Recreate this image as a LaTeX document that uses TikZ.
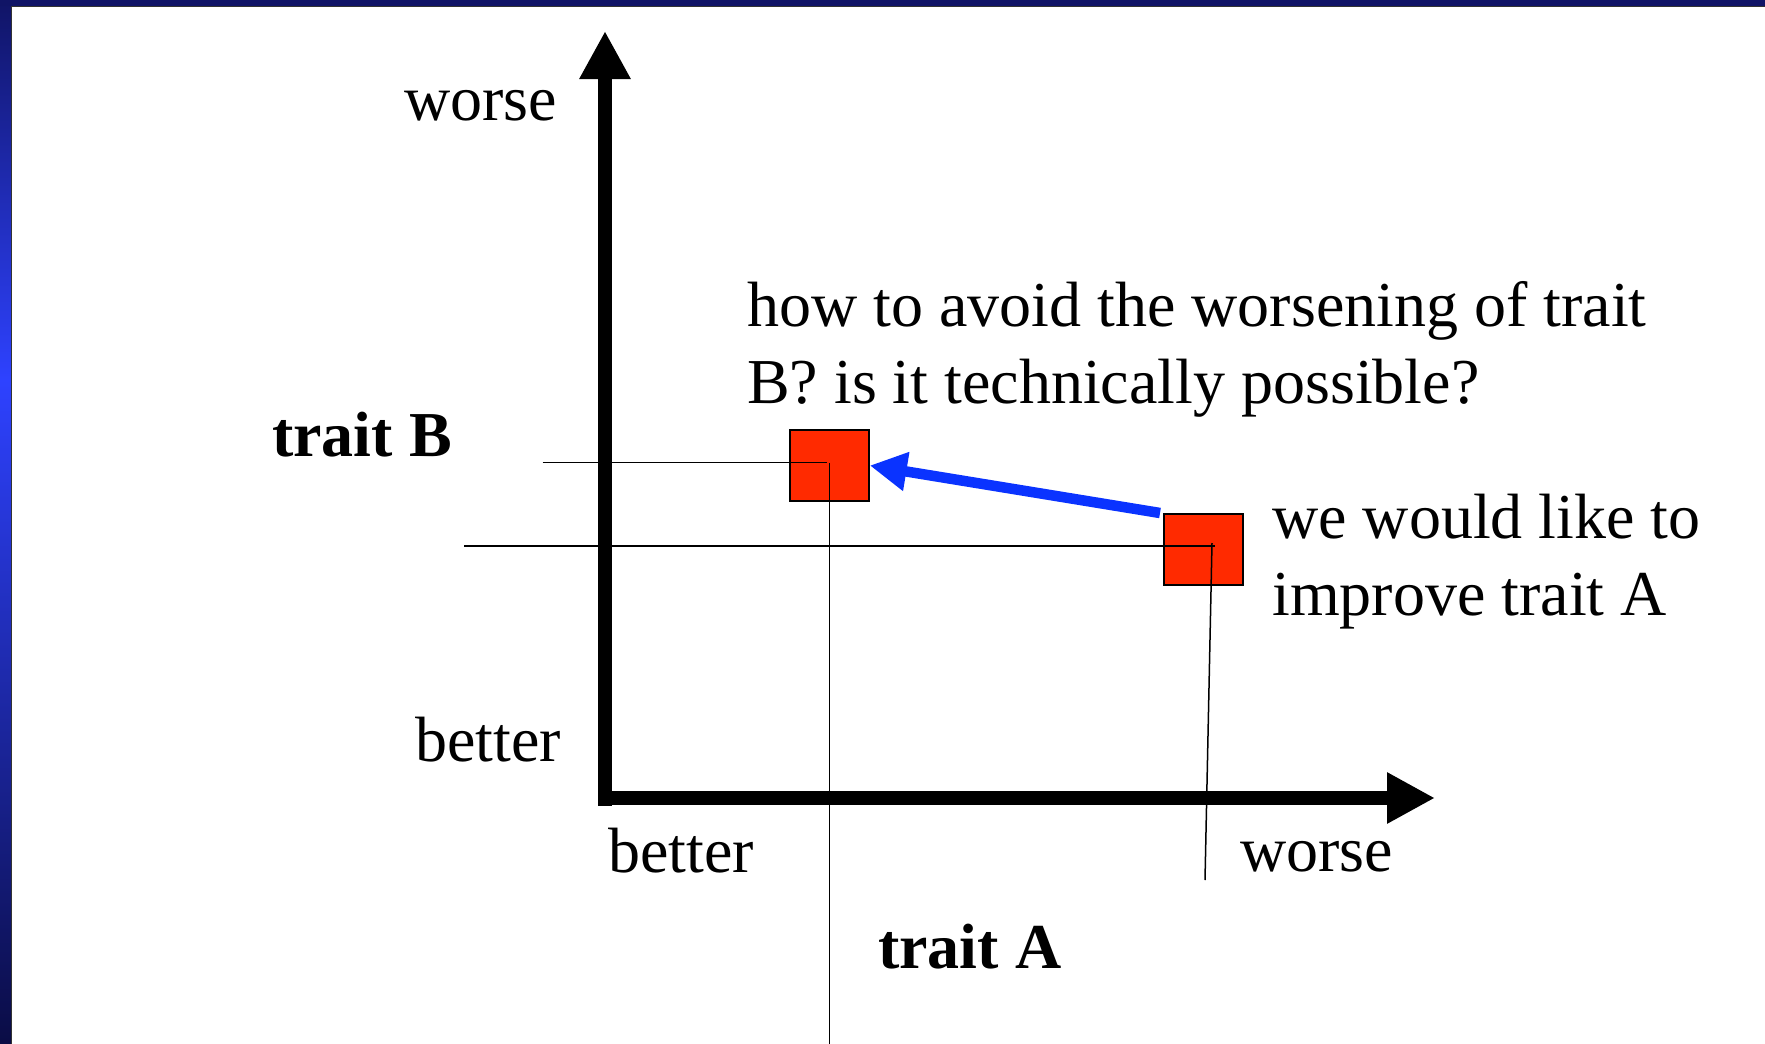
\documentclass[tikz,border=0pt]{standalone}
\usepackage{fontspec}
\setmainfont{Liberation Serif}
\usetikzlibrary{arrows.meta}
\definecolor{navyA}{HTML}{101466}
\definecolor{blueB}{HTML}{2E42FF}
\definecolor{navyC}{HTML}{0A0C45}
\definecolor{boxred}{HTML}{FF2A00}
\definecolor{arrblue}{HTML}{0A33FF}
\begin{document}
\begin{tikzpicture}[x=1pt,y=-1pt,
  lbl/.style={inner sep=0pt, anchor=base west, font=\fontsize{64}{77}\selectfont},
  blbl/.style={lbl, font=\fontsize{64}{77}\selectfont\bfseries},
  axis/.style={line width=14.5pt, -{Triangle[length=48pt,width=48pt]}},
  guide/.style={line width=1.5pt, black},
  sqbox/.style={draw=black, line width=1.5pt, fill=boxred, minimum width=79pt, minimum height=71pt, inner sep=0pt}]
\useasboundingbox (0,0) rectangle (1765,1044);
\fill[white] (0,0) rectangle (1765,1044);
% frame bands
\shade[top color=navyA, bottom color=blueB] (0,0) rectangle (11,380);
\shade[top color=blueB, bottom color=navyC] (0,380) rectangle (11,1044);
\fill[navyA] (0,0) rectangle (1765,6);
\draw[line width=1.2pt, black!80] (1765,6.5) -- (11.5,6.5) -- (11.5,1044);
% axes
\coordinate (yb) at (605,805.5);
\coordinate (yt) at (605,31);
\coordinate (xl) at (598,798);
\coordinate (xr) at (1435,798);
\draw[axis] (yb) -- (yt);
\draw[axis] (xl) -- (xr);
% squares
\node[sqbox] (sq1) at (829.5,465.5) {};
\node[sqbox] (sq2) at (1203.5,549.5) {};
% guide lines
\coordinate (h1a) at (542.6,462.7);
\coordinate (h1b) at (827,462.7);
\coordinate (v1a) at (829.5,463);
\coordinate (v1b) at (829.5,1044);
\coordinate (h2a) at (464,546);
\coordinate (h2b) at (1215,546);
\coordinate (v2a) at (1212,543);
\coordinate (v2b) at (1205,880);
\draw[guide] (h1a) -- (h1b);
\draw[guide] (v1a) -- (v1b);
\draw[guide] (h2a) -- (h2b);
\draw[guide] (v2a) -- (v2b);
% blue arrow
\coordinate (bs) at (1160,513);
\draw[arrblue, line width=10.5pt, -{Triangle[length=37pt,width=37pt]}] (bs) -- (sq1.east);
% labels
\node[lbl] (wt) at (404,120) {worse};
\node[lbl] (bl) at (415,761) {better};
\node[blbl] (tb) at (272,456) {trait B};
\node[lbl] (bb) at (608,872) {better};
\node[lbl] (wb) at (1240,871) {worse};
\node[blbl] (ta) at (878,968) {trait A};
\node[lbl] (q1) at (747,326) {how to avoid the worsening of trait};
\node[lbl] (q2) at (747,403) {B? is it technically possible?};
\node[lbl] (w1) at (1272,538) {we would like to};
\node[lbl] (w2) at (1272,615) {improve trait A};
\end{tikzpicture}
\end{document}
